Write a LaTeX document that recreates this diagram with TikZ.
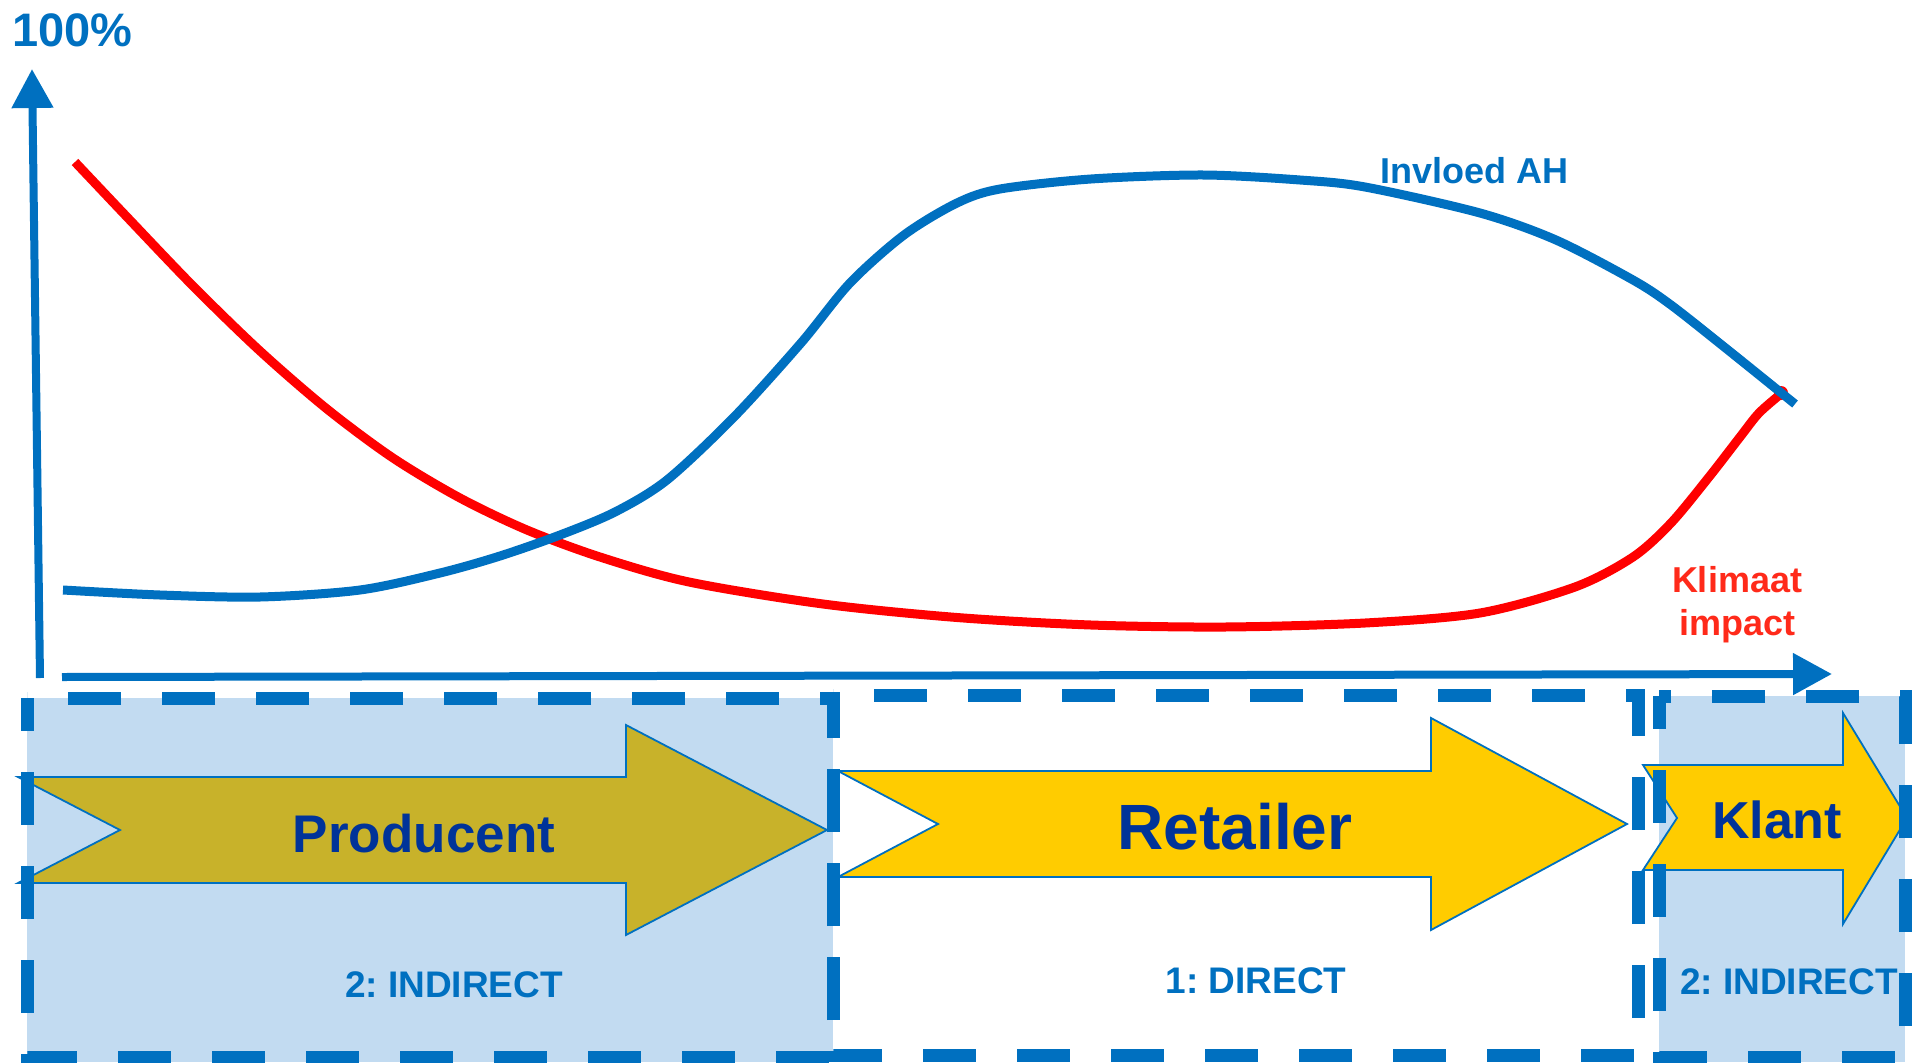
\documentclass[tikz,border=0pt]{standalone}
\usepackage{fontspec}
\setmainfont{Liberation Sans}
\usetikzlibrary{arrows.meta}
\definecolor{axblue}{HTML}{0070C0}
\definecolor{navy}{HTML}{003399}
\definecolor{ared}{HTML}{FF0000}
\definecolor{tred}{HTML}{FF2A1A}
\definecolor{ayellow}{HTML}{FFCC00}
\definecolor{olivefill}{HTML}{C8B22A}
\definecolor{paleblue}{HTML}{C2DBF1}
\frenchspacing
\begin{document}
\begin{tikzpicture}[x=1pt,y=-1pt,
  axis/.style={draw=axblue, line width=8pt, -{Triangle[length=39pt,width=40pt]}},
  zone/.style={draw=axblue, line width=13pt, dash pattern=on 53pt off 41pt, dash phase=20pt},
  shade/.style={fill=paleblue},
  blockarrow/.style={draw=axblue, line width=1.8pt, line join=miter},
  curve/.style={line width=9pt},
  arrowtext/.style={inner sep=0pt, anchor=base, text=navy},
  zonelabel/.style={inner sep=0pt, anchor=base, text=axblue, font=\fontsize{37}{44}\selectfont\bfseries},
]
\useasboundingbox (0,0) rectangle (1918,1062);

% shaded zones
\fill[shade] (27,698) rectangle (833,1062);
\fill[shade] (1659,696) rectangle (1905,1062);

% block arrows
\draw[blockarrow, fill=olivefill] (18,777) -- (626,777) -- (626,725) -- (827,830) -- (626,935) -- (626,883) -- (18,883) -- (120,830) -- cycle;
\draw[blockarrow, fill=ayellow] (838,771) -- (1431,771) -- (1431,718) -- (1627,824) -- (1431,930) -- (1431,877) -- (838,877) -- (938,824) -- cycle;
\draw[blockarrow, fill=ayellow] (1643,765) -- (1843,765) -- (1843,713) -- (1907,818) -- (1843,924) -- (1843,870) -- (1643,870) -- (1677,818) -- cycle;

% dashed zone borders
\draw[zone] (27,698) rectangle (833,1057);
\draw[zone] (833,695) rectangle (1638,1055);
\draw[zone] (1659,696) rectangle (1905,1057);

% axes
\coordinate (yb) at (40,678);
\coordinate (yt) at (32,69);
\coordinate (xl) at (62,677);
\coordinate (xr) at (1832,674);
\draw[axis] (yb) -- (yt);
\draw[axis] (xl) -- (xr);

% curves
\draw[curve, draw=ared] plot[smooth, tension=0.5] coordinates {
 (75,162) (127,217) (193,286) (260,351) (327,409) (393,458) (460,498)
 (527,530) (600,557) (689,582) (823,604) (957,617.5) (1091,625) (1225,627)
 (1365,623) (1480,613) (1575,587) (1633,557) (1671,523) (1709,477)
 (1740,437) (1759,413) (1782,393)};
\fill[ared] (1781,393) circle (7pt);
\draw[curve, draw=axblue] plot[smooth, tension=0.5] coordinates {
 (63,590) (160,595) (260,597) (360,590) (440,573) (500,556) (560,535)
 (615,512) (667,480) (734,417) (801,343) (850,283) (904,235) (957,203)
 (1000,189) (1091,179) (1203,175) (1300,180) (1365,187) (1480,213)
 (1556,240) (1633,280) (1671,305) (1728,350) (1795,404)};

% texts
\node[inner sep=0pt, anchor=base west, text=axblue, font=\fontsize{47}{56}\selectfont\bfseries] (pct) at (12,47) {100\%};
\node[inner sep=0pt, anchor=base, text=axblue, font=\fontsize{36}{43}\selectfont\bfseries] (ah) at (1474,183) {Invloed AH};
\node[inner sep=0pt, anchor=base, text=tred, font=\fontsize{36}{43}\selectfont\bfseries] (klim) at (1737,592) {Klimaat};
\node[inner sep=0pt, anchor=base, text=tred, font=\fontsize{36}{43}\selectfont\bfseries] (imp) at (1737,635) {impact};

\node[arrowtext, font=\fontsize{53}{60}\selectfont\bfseries] (prod) at (424,852) {Producent};
\node[arrowtext, font=\fontsize{64}{72}\selectfont\bfseries] (ret) at (1235,849) {Retailer};
\node[arrowtext, font=\fontsize{52}{60}\selectfont\bfseries] (klant) at (1777,838) {Klant};

\node[zonelabel] (ind1) at (454,997) {2: INDIRECT};
\node[zonelabel] (dir) at (1256,993) {1: DIRECT};
\node[zonelabel] (ind2) at (1789,994) {2: INDIRECT};
\end{tikzpicture}
\end{document}
